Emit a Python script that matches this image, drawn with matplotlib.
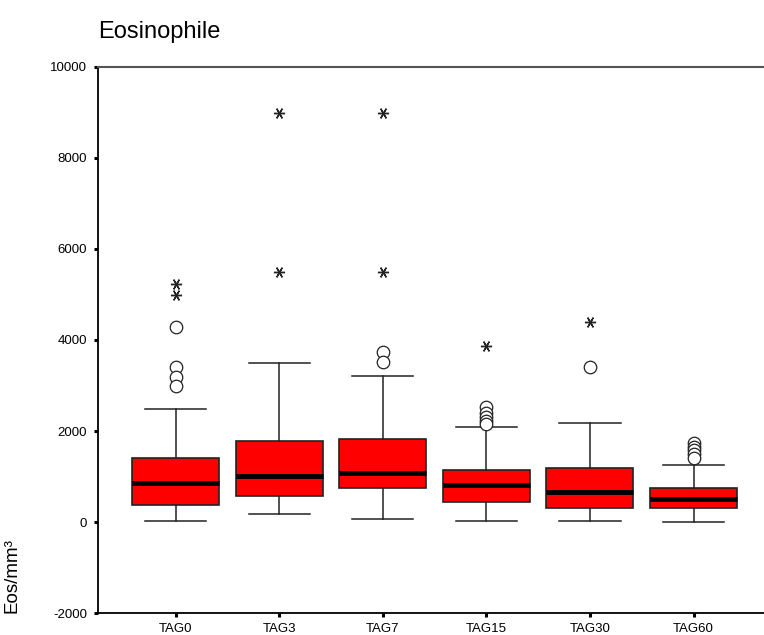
import matplotlib
matplotlib.use('Agg')
import matplotlib.pyplot as plt

plt.rcParams['font.family'] = ['Liberation Sans', 'DejaVu Sans']
plt.rcParams['axes.unicode_minus'] = False

# Werte (Eos/mm³)
groups = ['TAG0', 'TAG3', 'TAG7', 'TAG15', 'TAG30', 'TAG60']
whislo = [20, 170, 80, 20, 20, 0]
q1 = [375, 585, 760, 440, 320, 320]
med = [860, 1010, 1070, 825, 665, 505]
q3 = [1400, 1785, 1835, 1155, 1180, 760]
whishi = [2480, 3500, 3200, 2090, 2180, 1250]
# Ausreisser (Kreise) und Extremwerte (Sterne)
outliers = [
    [4280, 3400, 3180, 3000],
    [],
    [3740, 3510],
    [2530, 2400, 2300, 2220, 2160],
    [3400],
    [1740, 1660, 1580, 1500, 1420],
]
extremes = [
    [5230, 4980],
    [8990, 5490],
    [8990, 5490],
    [3860],
    [4400],
    [],
]

fig = plt.figure(figsize=(7.64, 6.35), dpi=100)
ax = fig.add_axes([98 / 764, 1 - 613.3 / 635, 1 - 98 / 764, (613.3 - 66.7) / 635])

stats = []
for i, g in enumerate(groups):
    stats.append(dict(label=g, whislo=whislo[i], q1=q1[i], med=med[i],
                      q3=q3[i], whishi=whishi[i], fliers=[]))

pos = list(range(1, len(groups) + 1))
ax.bxp(stats, positions=pos, widths=0.84, capwidths=0.59, patch_artist=True,
       showfliers=False,
       boxprops=dict(facecolor='#ff0000', edgecolor='#222222', linewidth=1.2),
       medianprops=dict(color='black', linewidth=3.5, solid_capstyle='butt'),
       whiskerprops=dict(color='#222222', linewidth=1.1),
       capprops=dict(color='#222222', linewidth=1.1))

for p, vals in zip(pos, outliers):
    if vals:
        ax.plot([p] * len(vals), vals, linestyle='none', marker='o',
                markersize=9, markerfacecolor='white', markeredgecolor='#222222',
                markeredgewidth=0.9)
for p, vals in zip(pos, extremes):
    if vals:
        ax.plot([p] * len(vals), vals, linestyle='none', marker=(6, 2, 90),
                markersize=8, color='#222222', markeredgewidth=1.0)

ax.set_xlim(0.25, 6.68)
ax.set_ylim(-2000, 10000)
ax.set_yticks([-2000, 0, 2000, 4000, 6000, 8000, 10000])
ax.set_xticks(pos)
ax.set_xticklabels(groups)

ax.spines['right'].set_visible(False)
ax.spines['top'].set_color('#555555')
ax.spines['top'].set_linewidth(1.5)
ax.spines['left'].set_linewidth(1.3)
ax.spines['bottom'].set_linewidth(1.3)

ax.tick_params(axis='both', length=3, width=2.2, direction='out', labelsize=9.5,
               color='black')
ax.tick_params(axis='y', pad=5)
ax.tick_params(axis='x', pad=4)

ax.set_ylabel('Eos/mm³', fontsize=13.5, loc='bottom')
ax.yaxis.set_label_coords(-78 / 666, 0)

ax.set_title('Eosinophile', loc='left', fontsize=17, pad=21)

fig.savefig('out.png', dpi=100)
